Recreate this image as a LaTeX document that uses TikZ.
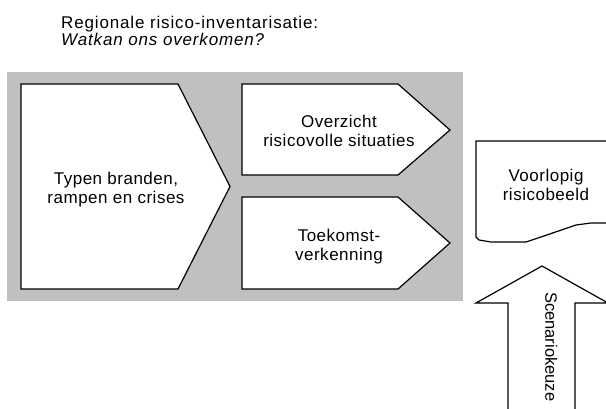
\documentclass[tikz,border=0pt]{standalone}
\usepackage{fontspec}
\setmainfont{Liberation Sans}[LetterSpace=3]
\begin{document}
\begin{tikzpicture}[x=1pt,y=-1pt,
  shapeline/.style={draw=black,line width=1.2pt,line join=miter,fill=white},
  lbl/.style={font=\fontsize{17}{19}\selectfont,align=center,inner sep=0pt},
  ttl/.style={font=\fontsize{17}{19}\selectfont\addfontfeature{LetterSpace=5},inner sep=0pt,anchor=base west}]
\useasboundingbox (0,0) rectangle (606,408);
\clip (0,0) rectangle (606,408);
% title
\node[ttl] (title1) at (61,28) {Regionale risico-inventarisatie:};
\node[ttl,font=\fontsize{17}{19}\selectfont\itshape\addfontfeature{LetterSpace=5}] (title2) at (61,45) {Watkan ons overkomen?};
% grey panel
\fill[fill={rgb,255:red,192;green,192;blue,192}] (7,72) rectangle (463,301);
% big pentagon
\draw[shapeline] (21,84) -- (178,84) -- (230,186.5) -- (178,289) -- (21,289) -- cycle;
\node[lbl] (typen) at (116,190) {Typen branden,\\rampen en crises};
% overzicht
\draw[shapeline] (242,84) -- (398,84) -- (450,130) -- (398,175) -- (242,175) -- cycle;
\node[lbl] (overzicht) at (339,131) {Overzicht\\risicovolle situaties};
% toekomst
\draw[shapeline] (242,197) -- (398,197) -- (450,243) -- (398,289) -- (242,289) -- cycle;
\node[lbl] (toekomst) at (339,247) {Toekomst-\\verkenning};
% voorlopig risicobeeld (document shape)
\draw[shapeline] (615,141) -- (476,141) -- (476,237) -- (479,240) -- (491,242) -- (526,242)
  -- (538,238) -- (576,225) -- (591,223) -- (615,223);
\node[lbl] (voorlopig) at (546,184.5) {Voorlopig\\risicobeeld};
% scenariokeuze arrow
\draw[shapeline] (542,266) -- (608,303) -- (575,303) -- (575,415) -- (508,415) -- (508,303) -- (476,303) -- cycle;
\node[lbl,font=\fontsize{16.5}{19}\selectfont\addfontfeature{LetterSpace=0},rotate=-90,anchor=mid west] (scenario) at (548,292) {Scenariokeuze};
\end{tikzpicture}
\end{document}
